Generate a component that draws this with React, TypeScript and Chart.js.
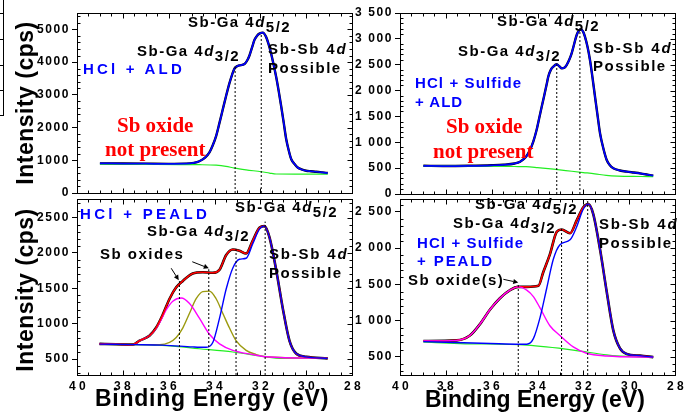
import React, { useEffect, useRef } from 'react';
import { Chart, registerables } from 'chart.js';

Chart.register(...registerables);

const SANS = 'Arial, "Liberation Sans", Helvetica, sans-serif';
const SERIF = '"Times New Roman", "Liberation Serif", Times, serif';

const BLUE = '#0000ff';
const RED = '#ff0000';
const MAGENTA = '#ff00ff';
const OLIVE = '#9c9a10';
const GREEN = '#22ee22';
const BLACK = '#000000';

// ---------- ticks ----------
const X_TICKS = [40, 38, 36, 34, 32, 30, 28];
const X_LABELS = ['40', '38', '36', '34', '32', '30', '28'];

const TL_Y_TICKS = [0, 1000, 2000, 3000, 4000, 5000];
const TL_Y_LABELS = ['0', '1000', '2000', '3000', '4000', '5000'];
const TR_Y_TICKS = [0, 500, 1000, 1500, 2000, 2500, 3000, 3500];
const TR_Y_LABELS = ['0', '500', '1 000', '1 500', '2 000', '2 500', '3 000', '3 500'];
const BL_Y_TICKS = [500, 1000, 1500, 2000, 2500];
const BL_Y_LABELS = ['500', '1000', '1500', '2000', '2500'];
const BR_Y_TICKS = [500, 1000, 1500, 2000, 2500];
const BR_Y_LABELS = ['500', '1 000', '1 500', '2 000', '2 500'];

// ---------- HCl + ALD (top left) ----------
const TL_FIT_E = [39.0, 38.0, 37.0, 36.0, 35.24, 34.9, 34.66, 34.4, 34.22, 34.08, 33.93, 33.78, 33.64, 33.5, 33.35, 33.23, 33.13, 33.02, 32.91, 32.69, 32.55, 32.47, 32.36, 32.26, 32.15, 32.04, 31.89, 31.75, 31.64, 31.53, 31.42, 31.31, 31.2, 31.09, 30.98, 30.87, 30.76, 30.65, 30.5, 30.37, 30.2, 30.0, 29.8, 29.56, 29.3, 29.06];
const TL_FIT_I = [905, 900, 895, 890, 895, 920, 970, 1090, 1240, 1450, 1740, 2150, 2550, 2950, 3350, 3620, 3800, 3870, 3900, 3940, 4080, 4210, 4450, 4670, 4800, 4870, 4900, 4770, 4550, 4260, 3920, 3550, 3120, 2650, 2150, 1640, 1300, 1030, 880, 780, 720, 680, 665, 650, 630, 610];
const TL_BG_E = [39.0, 37.0, 35.5, 34.66, 33.93, 33.5, 33.13, 32.62, 31.96, 31.6, 31.31, 30.5, 29.06];
const TL_BG_I = [885, 875, 868, 865, 850, 815, 760, 706, 650, 610, 580, 577, 577];
const TL_MARK_E = [33.1, 31.96];
const TL_MARK_TOP = [3880, 4880];

// ---------- HCl + Sulfide + ALD (top right) ----------
const TR_FIT_E = [38.98, 38.0, 37.0, 36.0, 35.5, 35.0, 34.76, 34.5, 34.33, 34.18, 34.04, 33.9, 33.75, 33.6, 33.53, 33.42, 33.31, 33.16, 33.05, 32.94, 32.83, 32.73, 32.62, 32.51, 32.4, 32.29, 32.18, 32.1, 32.0, 31.93, 31.82, 31.71, 31.6, 31.49, 31.38, 31.27, 31.12, 30.98, 30.85, 30.69, 30.4, 30.1, 29.8, 29.53, 29.2, 28.95];
const TR_FIT_I = [545, 540, 545, 555, 565, 590, 625, 720, 850, 1020, 1237, 1520, 1818, 2120, 2268, 2400, 2462, 2508, 2470, 2430, 2440, 2494, 2590, 2720, 2900, 3075, 3165, 3185, 3130, 3042, 2850, 2590, 2250, 1880, 1520, 1170, 870, 657, 560, 497, 455, 432, 415, 400, 375, 354];
const TR_BG_E = [38.98, 36.0, 35.0, 34.5, 34.0, 33.3, 32.5, 32.0, 31.5, 31.0, 30.5, 29.5, 28.95];
const TR_BG_I = [545, 540, 532, 528, 510, 480, 440, 415, 390, 360, 345, 338, 335];
const TR_MARK_E = [33.16, 32.15];
const TR_MARK_TOP = [2508, 3180];

// ---------- HCl + PEALD (bottom left) ----------
const BL_ENV_E = [39.02, 38.3, 37.56, 37.27, 36.84, 36.55, 36.26, 35.96, 35.67, 35.38, 34.95, 34.51, 34.07, 33.78, 33.49, 33.2, 32.91, 32.62, 32.33, 32.04, 31.82, 31.6, 31.31, 31.02, 30.73, 30.44, 30.0, 29.06];
const BL_ENV_I = [715, 710, 705, 760, 830, 942, 1126, 1353, 1514, 1605, 1710, 1727, 1720, 1764, 1970, 2048, 2030, 1993, 2175, 2357, 2380, 2220, 1764, 1216, 760, 578, 532, 510];
const BL_SBGA_E = [39.02, 37.56, 36.26, 34.95, 34.66, 34.36, 34.07, 33.78, 33.49, 33.2, 32.91, 32.62, 32.33, 32.04, 31.82, 31.6, 31.31, 31.02, 30.73, 30.44, 30.0, 29.06];
const BL_SBGA_I = [712, 705, 698, 672, 668, 668, 737, 1079, 1490, 1788, 1911, 1925, 2130, 2336, 2380, 2220, 1764, 1216, 760, 578, 532, 510];
const BL_OX1_E = [39.02, 37.56, 37.27, 36.84, 36.55, 36.4, 36.11, 35.82, 35.45, 35.09, 34.66, 34.22, 33.78, 33.2, 32.33, 31.75, 29.06];
const BL_OX1_I = [715, 705, 760, 830, 930, 1010, 1194, 1318, 1363, 1285, 1079, 851, 715, 623, 564, 532, 510];
const BL_OX2_E = [39.02, 37.56, 36.4, 35.96, 35.67, 35.38, 35.09, 34.8, 34.51, 34.22, 33.93, 33.64, 33.35, 33.06, 32.62, 32.18, 31.75, 29.06];
const BL_OX2_I = [712, 705, 705, 737, 805, 942, 1148, 1353, 1453, 1460, 1353, 1148, 942, 760, 623, 564, 532, 510];
const BL_BG_E = [39.02, 36.11, 34.66, 33.2, 31.75, 31.16, 29.06];
const BL_BG_I = [712, 690, 646, 600, 532, 510, 510];
const BL_MARK_E = [35.53, 34.25, 33.06, 31.79];
const BL_MARK_TOP = [1602, 1770, 2057, 2444];
const BL_ARROWS = [[35.89, 1784, 35.56, 1616], [34.97, 1876, 34.25, 1784]];

// ---------- HCl + Sulfide + PEALD (bottom right) ----------
const BR_ENV_E = [38.98, 37.53, 36.95, 36.51, 36.07, 35.64, 35.2, 34.84, 34.47, 33.96, 33.75, 33.46, 33.16, 32.95, 32.58, 32.29, 32.0, 31.78, 31.57, 31.27, 30.98, 30.69, 30.4, 30.11, 29.53, 28.95];
const BR_ENV_I = [719, 728, 795, 952, 1153, 1309, 1421, 1466, 1466, 1480, 1668, 1913, 2227, 2258, 2205, 2383, 2563, 2607, 2473, 1980, 1399, 862, 617, 540, 517, 496];
const BR_SBGA_E = [38.98, 36.07, 34.76, 34.47, 34.18, 33.89, 33.6, 33.31, 33.02, 32.58, 32.29, 32.0, 31.78, 31.57, 31.27, 30.98, 30.69, 30.4, 30.11, 29.53, 28.95];
const BR_SBGA_I = [711, 684, 674, 674, 751, 1041, 1443, 1846, 2047, 2114, 2295, 2540, 2607, 2473, 1980, 1399, 862, 617, 540, 517, 496];
const BR_OX_E = [38.98, 37.53, 36.95, 36.51, 36.07, 35.64, 35.2, 34.84, 34.47, 34.18, 33.89, 33.46, 33.02, 32.44, 31.86, 30.98, 28.95];
const BR_OX_I = [719, 728, 795, 952, 1153, 1309, 1421, 1466, 1421, 1332, 1175, 929, 795, 638, 550, 513, 496];
const BR_BG_E = [38.98, 37.38, 34.47, 32.44, 30.98, 30.55, 28.95];
const BR_BG_I = [705, 684, 661, 594, 527, 513, 496];
const BR_MARK_E = [34.84, 32.95, 31.81];
const BR_MARK_TOP = [1515, 2265, 2660];
const BR_ARROWS = [[35.49, 1570, 34.84, 1525]];

// ---------- helpers ----------
function curve(E: number[], I: number[], color: string, width: number) {
  return {
    data: E.map((x, i) => ({ x, y: I[i] })),
    borderColor: color,
    backgroundColor: color,
    borderWidth: width,
    pointRadius: 0,
    pointHoverRadius: 0,
    fill: false,
    cubicInterpolationMode: 'monotone',
  };
}

function marks(E: number[], tops: number[], base: number) {
  return E.map((x, i) => ({
    data: [{ x, y: base }, { x, y: tops[i] }],
    borderColor: BLACK,
    borderWidth: 1,
    borderDash: [2, 2],
    pointRadius: 0,
    fill: false,
    tension: 0,
  }));
}

const framePlugin = {
  id: 'frame',
  beforeDraw(chart: any) {
    chart.ctx.letterSpacing = '1.6px';
  },
  afterDatasetsDraw(chart: any, _a: any, opts: any) {
    const ctx = chart.ctx;
    const xs = chart.scales.x;
    const ys = chart.scales.y;
    ctx.save();
    ctx.strokeStyle = BLACK;
    ctx.fillStyle = BLACK;
    ctx.lineWidth = 1;
    (opts.arrows || []).forEach((a: number[]) => {
      const x0 = xs.getPixelForValue(a[0]);
      const y0 = ys.getPixelForValue(a[1]);
      const x1 = xs.getPixelForValue(a[2]);
      const y1 = ys.getPixelForValue(a[3]);
      const ang = Math.atan2(y1 - y0, x1 - x0);
      const hl = 5;
      const hw = 2.5;
      const bx = x1 - hl * Math.cos(ang);
      const by = y1 - hl * Math.sin(ang);
      ctx.beginPath();
      ctx.moveTo(x0, y0);
      ctx.lineTo(bx, by);
      ctx.stroke();
      ctx.beginPath();
      ctx.moveTo(x1, y1);
      ctx.lineTo(bx + hw * Math.sin(ang), by - hw * Math.cos(ang));
      ctx.lineTo(bx - hw * Math.sin(ang), by + hw * Math.cos(ang));
      ctx.closePath();
      ctx.fill();
    });
    ctx.restore();
  },
  afterDraw(chart: any, _a: any, opts: any) {
    const ctx = chart.ctx;
    const a = chart.chartArea;
    const xs = chart.scales.x;
    const ys = chart.scales.y;
    ctx.save();
    ctx.letterSpacing = '0px';
    ctx.strokeStyle = BLACK;
    ctx.lineWidth = 1;
    const L = Math.round(a.left) + 0.5;
    const R = Math.round(a.right) + 0.5;
    const T = Math.round(a.top) + 0.5;
    const B = Math.round(a.bottom) + 0.5;
    ctx.strokeRect(L, T, R - L, B - T);
    ctx.beginPath();
    for (let k = 0; k <= 24; k++) {
      const v = 28 + k * 0.5;
      if (v <= 28 || v >= 40) continue;
      const px = Math.round(xs.getPixelForValue(v)) + 0.5;
      const major = X_TICKS.includes(v);
      const len = major ? 5 : 3;
      ctx.moveTo(px, T);
      ctx.lineTo(px, T + len);
      ctx.moveTo(px, B);
      ctx.lineTo(px, B - len);
    }
    const step = opts.minorY;
    for (let v = Math.ceil(ys.min / step) * step; v <= ys.max; v += step) {
      const py = Math.round(ys.getPixelForValue(v)) + 0.5;
      if (py <= T || py >= B) continue;
      const major = opts.majorY.includes(v);
      ctx.moveTo(R, py);
      ctx.lineTo(R - (major ? 5 : 3), py);
      if (!major) {
        ctx.moveTo(L, py);
        ctx.lineTo(L + 3, py);
      }
    }
    ctx.stroke();

    // x tick labels, placed on the x scale's own ticks (glyphs snapped to whole pixels)
    if (opts.showX) {
      ctx.fillStyle = BLACK;
      ctx.font = `bold 12px ${SANS}`;
      ctx.textAlign = 'left';
      ctx.textBaseline = 'alphabetic';
      const adv = 10;
      xs.ticks.forEach((t: any, i: number) => {
        const label = X_LABELS[i];
        const last = ctx.measureText(label[label.length - 1]).width;
        const total = adv * (label.length - 1) + last;
        let x0 = Math.round(xs.getPixelForValue(t.value) - total / 2);
        for (const ch of label) {
          ctx.fillText(ch, x0, Math.round(B + 14.5));
          x0 += adv;
        }
      });
    }
    ctx.restore();
    ctx.letterSpacing = '0px';
  },
};

type PanelCfg = {
  key: string;
  left: number;
  top: number;
  w: number;
  h: number;
  area: { l: number; t: number; r: number; b: number };
  yMin: number;
  yMax: number;
  yTicks: number[];
  yLabels: string[];
  minorY: number;
  showX: boolean;
  datasets: any[];
  arrows: number[][];
};

const PANELS: PanelCfg[] = [
  {
    key: 'tl', left: 0, top: 0, w: 380, h: 210,
    area: { l: 77, t: 13, r: 352, b: 193 },
    yMin: 0, yMax: 5500, yTicks: TL_Y_TICKS, yLabels: TL_Y_LABELS, minorY: 200, showX: false,
    datasets: [
      ...marks(TL_MARK_E, TL_MARK_TOP, 0),
      curve(TL_FIT_E, TL_FIT_I, BLUE, 1.7),
      curve(TL_BG_E, TL_BG_I, GREEN, 1.2),
      curve(TL_FIT_E, TL_FIT_I, BLACK, 2.4),
    ],
    arrows: [],
  },
  {
    key: 'tr', left: 340, top: 0, w: 350, h: 210,
    area: { l: 60, t: 13, r: 335, b: 194 },
    yMin: 0, yMax: 3500, yTicks: TR_Y_TICKS, yLabels: TR_Y_LABELS, minorY: 100, showX: false,
    datasets: [
      ...marks(TR_MARK_E, TR_MARK_TOP, 0),
      curve(TR_FIT_E, TR_FIT_I, BLUE, 1.7),
      curve(TR_BG_E, TR_BG_I, GREEN, 1.2),
      curve(TR_FIT_E, TR_FIT_I, BLACK, 2.4),
    ],
    arrows: [],
  },
  {
    key: 'bl', left: 0, top: 190, w: 380, h: 228,
    area: { l: 77, t: 3, r: 352, b: 185 },
    yMin: 275, yMax: 2760, yTicks: BL_Y_TICKS, yLabels: BL_Y_LABELS, minorY: 100, showX: true,
    datasets: [
      ...marks(BL_MARK_E, BL_MARK_TOP, 275),
      curve(BL_SBGA_E, BL_SBGA_I, BLUE, 1.4),
      curve(BL_ENV_E, BL_ENV_I, RED, 1.6),
      curve(BL_OX1_E, BL_OX1_I, MAGENTA, 1.4),
      curve(BL_OX2_E, BL_OX2_I, OLIVE, 1.4),
      curve(BL_BG_E, BL_BG_I, GREEN, 1.2),
      curve(BL_ENV_E, BL_ENV_I, BLACK, 2.6),
    ],
    arrows: BL_ARROWS,
  },
  {
    key: 'br', left: 340, top: 190, w: 350, h: 228,
    area: { l: 60, t: 5, r: 335, b: 185 },
    yMin: 250, yMax: 2675, yTicks: BR_Y_TICKS, yLabels: BR_Y_LABELS, minorY: 100, showX: true,
    datasets: [
      ...marks(BR_MARK_E, BR_MARK_TOP, 250),
      curve(BR_SBGA_E, BR_SBGA_I, BLUE, 1.4),
      curve(BR_OX_E, BR_OX_I, MAGENTA, 1.4),
      curve(BR_ENV_E, BR_ENV_I, RED, 1.6),
      curve(BR_BG_E, BR_BG_I, GREEN, 1.2),
      curve(BR_ENV_E, BR_ENV_I, BLACK, 2.6),
    ],
    arrows: BR_ARROWS,
  },
];

const yTickFont = { family: SANS, size: 12, weight: 'bold' };

function ChartPanel({ p }: { p: PanelCfg }) {
  const ref = useRef<HTMLCanvasElement>(null);
  useEffect(() => {
    const chart = new Chart(ref.current as HTMLCanvasElement, {
      type: 'line',
      data: { datasets: p.datasets },
      options: {
        animation: false,
        responsive: false,
        devicePixelRatio: 1,
        events: [],
        layout: { padding: { left: 0, top: p.area.t, right: p.w - p.area.r, bottom: 0 } },
        plugins: {
          legend: { display: false },
          tooltip: { enabled: false },
          title: { display: false },
          frame: { minorY: p.minorY, majorY: p.yTicks, arrows: p.arrows, showX: p.showX },
        },
        scales: {
          x: {
            type: 'linear',
            reverse: true,
            min: 28,
            max: 40,
            afterBuildTicks: (s: any) => { s.ticks = X_TICKS.map((v) => ({ value: v })); },
            afterFit: (s: any) => { s.height = p.h - p.area.b; },
            grid: { display: false, drawTicks: false, tickLength: 0 },
            border: { display: false },
            ticks: { display: false },
          },
          y: {
            type: 'linear',
            min: p.yMin,
            max: p.yMax,
            afterBuildTicks: (s: any) => { s.ticks = p.yTicks.map((v) => ({ value: v })); },
            afterFit: (s: any) => { s.width = p.area.l; },
            grid: { display: true, drawOnChartArea: false, drawTicks: true, tickLength: 5, color: BLACK, lineWidth: 1 },
            border: { display: false },
            ticks: {
              color: BLACK,
              font: yTickFont,
              padding: 2,
              autoSkip: false,
              callback: (_v: any, i: number) => p.yLabels[i],
            },
          },
        },
      },
      plugins: [framePlugin],
    } as any);
    return () => chart.destroy();
  }, []);
  return (
    <canvas
      ref={ref}
      width={p.w}
      height={p.h}
      style={{ position: 'absolute', left: p.left, top: p.top, width: p.w, height: p.h }}
    />
  );
}

function T({ x, y, size = 15, color = BLACK, family = SANS, ls = 1.5, children }: any) {
  const base = family === SERIF ? 0.84 : 0.85;
  return (
    <div
      style={{
        position: 'absolute', left: x, top: y - base * size, fontFamily: family, fontSize: size,
        fontWeight: 'bold', lineHeight: `${size}px`, color, letterSpacing: ls, whiteSpace: 'nowrap',
      }}
    >
      {children}
    </div>
  );
}

function Peak({ x, y, sub }: any) {
  return (
    <T x={x} y={y} ls={1.5}>
      Sb-Ga 4<i>d</i>
      <span style={{ position: 'relative', top: 5 }}>{sub}</span>
    </T>
  );
}

function SbSb({ x, y }: any) {
  return (
    <>
      <T x={x} y={y} ls={1.8}>Sb-Sb 4<i>d</i></T>
      <T x={x} y={y + 18.5} ls={1.5}>Possible</T>
    </>
  );
}

function YTitle({ cy }: any) {
  return (
    <div
      style={{
        position: 'absolute', left: 25.3, top: cy, transform: 'translate(-50%, -50%) rotate(-90deg)',
        fontFamily: SANS, fontSize: 23, fontWeight: 'bold', lineHeight: '23px', letterSpacing: 0.5,
        whiteSpace: 'nowrap', color: BLACK,
      }}
    >
      Intensity (cps)
    </div>
  );
}

export default function App() {
  return (
    <div style={{ position: 'fixed', left: 0, top: 0, width: 690, height: 418, background: '#fff', overflow: 'hidden' }}>
      {/* stray table edge at the far left of the source image */}
      <div style={{ position: 'absolute', left: 3, top: 0, width: 1, height: 116, background: BLACK }} />
      {[13, 39, 65, 90, 115].map((yy) => (
        <div key={yy} style={{ position: 'absolute', left: 0, top: yy, width: 4, height: 1, background: BLACK }} />
      ))}

      {PANELS.map((p) => <ChartPanel key={p.key} p={p} />)}

      <YTitle cy={103.3} />
      <YTitle cy={290} />
      <T x={95} y={406.7} size={23} ls={0.75}>Binding Energy (eV)</T>
      <T x={425} y={408} size={23} ls={0}>Binding Energy (eV)</T>

      {/* top left */}
      <Peak x={188} y={27} sub="5/2" />
      <Peak x={137} y={56} sub="3/2" />
      <SbSb x={268} y={54} />
      <T x={83} y={74} color={BLUE} ls={3.2}>HCl + ALD</T>
      <T x={117} y={132.7} size={21} family={SERIF} color={RED} ls={0}>Sb oxide</T>
      <T x={105} y={156.7} size={21} family={SERIF} color={RED} ls={0}>not present</T>

      {/* top right */}
      <Peak x={497} y={26} sub="5/2" />
      <Peak x={458} y={56} sub="3/2" />
      <SbSb x={593} y={52.7} />
      <T x={415} y={87.3} color={BLUE} ls={1.1}>HCl + Sulfide</T>
      <T x={415} y={106.7} color={BLUE} ls={1}>+ ALD</T>
      <T x={446} y={133.3} size={21} family={SERIF} color={RED} ls={0}>Sb oxide</T>
      <T x={433} y={158.3} size={21} family={SERIF} color={RED} ls={0}>not present</T>

      {/* bottom left */}
      <T x={80} y={218.3} color={BLUE} ls={3.3}>HCl + PEALD</T>
      <Peak x={235} y={211.7} sub="5/2" />
      <Peak x={147} y={235.7} sub="3/2" />
      <T x={100} y={258.3} ls={1.5}>Sb oxides</T>
      <SbSb x={269} y={259} />

      {/* bottom right */}
      <Peak x={475} y={208.3} sub="5/2" />
      <Peak x={453} y={227.3} sub="3/2" />
      <SbSb x={599} y={229} />
      <T x={417} y={247.3} color={BLUE} ls={1.1}>HCl + Sulfide</T>
      <T x={417} y={265.7} color={BLUE} ls={1.9}>+ PEALD</T>
      <T x={408} y={284.3} ls={1.4}>Sb oxide(s)</T>
    </div>
  );
}
